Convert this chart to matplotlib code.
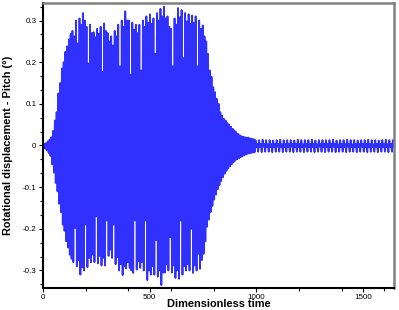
import numpy as np
import matplotlib
matplotlib.use("Agg")
import matplotlib.pyplot as plt
from matplotlib.ticker import MultipleLocator

plt.rcParams['font.family'] = ['Liberation Sans', 'DejaVu Sans']
plt.rcParams['axes.unicode_minus'] = False

# Peak values per half-oscillation
cycle_start = 6.0
cycle_period = 8.25
upper_peaks = [
    0.004, 0.006, 0.010, 0.014, 0.020, 0.035, 0.060, 0.080, 0.125, 0.150,
    0.185, 0.200, 0.225, 0.238, 0.255, 0.268, 0.275, 0.262, 0.300, 0.245,
    0.305, 0.290, 0.318, 0.300, 0.285, 0.197, 0.290, 0.270, 0.272, 0.260,
    0.280, 0.268, 0.285, 0.177, 0.293, 0.275, 0.270, 0.250, 0.262, 0.240,
    0.275, 0.262, 0.290, 0.190, 0.300, 0.285, 0.322, 0.300, 0.300, 0.170,
    0.295, 0.278, 0.290, 0.270, 0.290, 0.180, 0.300, 0.285, 0.310, 0.295,
    0.315, 0.292, 0.305, 0.220, 0.318, 0.300, 0.328, 0.310, 0.333, 0.305,
    0.310, 0.285, 0.280, 0.190, 0.305, 0.290, 0.330, 0.308, 0.325, 0.210,
    0.318, 0.298, 0.315, 0.292, 0.312, 0.295, 0.310, 0.190, 0.300, 0.280,
    0.288, 0.262, 0.250, 0.220, 0.180, 0.165, 0.140, 0.128, 0.112, 0.100,
    0.080, 0.072, 0.064, 0.060, 0.054, 0.050, 0.045, 0.040, 0.036, 0.032,
    0.028, 0.025, 0.022, 0.021, 0.020, 0.019, 0.019, 0.017, 0.016, 0.015,
    0.013, 0.004, 0.013, 0.004, 0.014, 0.004, 0.013, 0.003, 0.013, 0.004,
    0.012, 0.004, 0.013, 0.004, 0.014, 0.003, 0.013, 0.004, 0.013, 0.004,
    0.013, 0.004, 0.012, 0.004, 0.014, 0.004, 0.013, 0.003, 0.013, 0.004,
    0.013, 0.004, 0.014, 0.004, 0.012, 0.003, 0.013, 0.004, 0.013, 0.004,
    0.013, 0.004, 0.013, 0.004, 0.014, 0.004, 0.012, 0.003, 0.013, 0.004,
    0.013, 0.004, 0.014, 0.004, 0.013, 0.003, 0.013, 0.004, 0.012, 0.004,
    0.013, 0.004, 0.013, 0.004, 0.014, 0.004, 0.013, 0.003, 0.013, 0.004,
    0.012, 0.004, 0.013, 0.004, 0.014, 0.003, 0.013, 0.004, 0.013, 0.004,
]
lower_peaks = [
    -0.008, -0.012, -0.018, -0.025, -0.045, -0.065, -0.090, -0.110, -0.140, -0.160,
    -0.190, -0.205, -0.230, -0.245, -0.262, -0.272, -0.280, -0.198, -0.290, -0.275,
    -0.310, -0.292, -0.300, -0.190, -0.292, -0.270, -0.280, -0.262, -0.280, -0.170,
    -0.283, -0.265, -0.288, -0.270, -0.288, -0.180, -0.265, -0.250, -0.270, -0.190,
    -0.285, -0.268, -0.300, -0.285, -0.311, -0.290, -0.295, -0.280, -0.294, -0.300,
    -0.306, -0.180, -0.298, -0.278, -0.294, -0.280, -0.300, -0.180, -0.323, -0.300,
    -0.310, -0.290, -0.310, -0.227, -0.315, -0.300, -0.335, -0.305, -0.305, -0.285,
    -0.300, -0.220, -0.305, -0.288, -0.318, -0.300, -0.320, -0.180, -0.310, -0.290,
    -0.300, -0.285, -0.300, -0.200, -0.306, -0.288, -0.300, -0.260, -0.296, -0.275,
    -0.260, -0.230, -0.195, -0.178, -0.160, -0.145, -0.130, -0.118, -0.105, -0.095,
    -0.085, -0.076, -0.068, -0.061, -0.055, -0.050, -0.045, -0.040, -0.036, -0.033,
    -0.031, -0.028, -0.026, -0.024, -0.022, -0.020, -0.019, -0.018, -0.017, -0.016,
    -0.004, -0.015, -0.004, -0.016, -0.003, -0.015, -0.004, -0.015, -0.004, -0.016,
    -0.004, -0.015, -0.003, -0.015, -0.004, -0.016, -0.004, -0.015, -0.004, -0.015,
    -0.003, -0.016, -0.004, -0.015, -0.004, -0.015, -0.004, -0.016, -0.003, -0.015,
    -0.004, -0.015, -0.004, -0.016, -0.004, -0.015, -0.003, -0.015, -0.004, -0.016,
    -0.004, -0.015, -0.004, -0.015, -0.003, -0.016, -0.004, -0.015, -0.004, -0.015,
    -0.004, -0.016, -0.003, -0.015, -0.004, -0.015, -0.004, -0.016, -0.004, -0.015,
    -0.003, -0.015, -0.004, -0.016, -0.004, -0.015, -0.004, -0.015, -0.003, -0.016,
    -0.004, -0.015, -0.004, -0.015, -0.004, -0.016, -0.003, -0.015, -0.004, -0.015,
]
x_major_ticks = [0, 500, 1000, 1500]
y_major_ticks = [-0.3, -0.2, -0.1, 0, 0.1, 0.2, 0.3]
y_tick_labels = ["-0.3", "-0.2", "-0.1", "0", "0.1", "0.2", "0.3"]

n = len(upper_peaks)
t_up = cycle_start + cycle_period * np.arange(n)
t_lo = t_up + cycle_period / 2
t = np.empty(2 * n + 1)
y = np.empty(2 * n + 1)
t[0], y[0] = 0.0, 0.0
t[1::2], y[1::2] = t_up, upper_peaks
t[2::2], y[2::2] = t_lo, lower_peaks

fig = plt.figure(figsize=(3.99, 3.10), dpi=100)
ax = fig.add_axes([0.1078, 0.071, 0.8797, 0.9193])
ax.plot(t, y, color='#3030ff', lw=1.3)
ax.set_xlim(0, 1645)
ax.set_ylim(-0.342, 0.342)

ax.set_xticks(x_major_ticks)
ax.xaxis.set_minor_locator(MultipleLocator(200))
ax.set_yticks(y_major_ticks)
ax.set_yticklabels(y_tick_labels)
ax.yaxis.set_minor_locator(MultipleLocator(0.1 / 3))
ax.tick_params(which='both', direction='out', labelsize=5.8, pad=1.5,
               width=0.8, color='black')
ax.tick_params(which='major', length=3.2)
ax.tick_params(which='minor', length=2.4)
ax.tick_params(axis='x', pad=1.0)

for side in ('left', 'bottom'):
    ax.spines[side].set_color('black')
    ax.spines[side].set_linewidth(1.5)
for side in ('top', 'right'):
    ax.spines[side].set_color('#808080')
    ax.spines[side].set_linewidth(1.8)

ax.set_xlabel('Dimensionless time', fontsize=7.9, fontweight='bold')
ax.xaxis.set_label_coords(0.5, -0.040)
ax.set_ylabel('Rotational displacement - Pitch (°)', fontsize=7.9,
              fontweight='bold')
ax.yaxis.set_label_coords(-0.085, 0.5)

fig.savefig('out.png', dpi=100)
